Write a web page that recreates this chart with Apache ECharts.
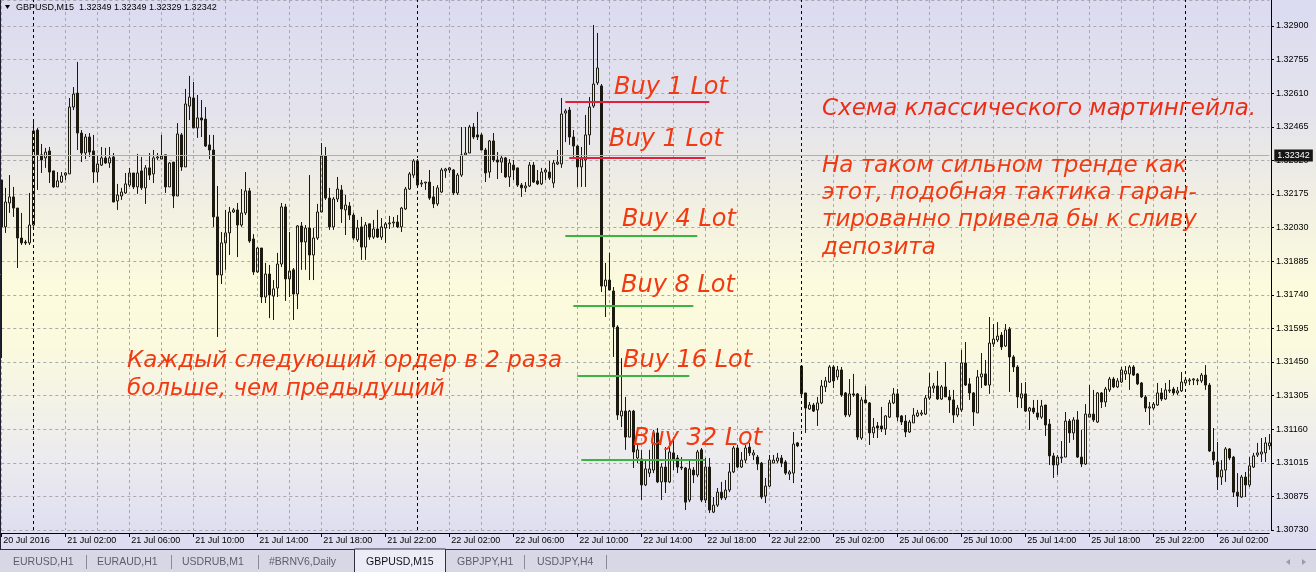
<!DOCTYPE html>
<html>
<head>
<meta charset="utf-8">
<script src="https://cdn.jsdelivr.net/npm/echarts@6/dist/echarts.min.js"></script>
<style>
  html, body { margin: 0; padding: 0; width: 1316px; height: 572px; overflow: hidden; }
  #chart {
    width: 1316px; height: 572px;
    background: linear-gradient(to bottom, #dbdbf1 0%, #e4e3ec 20%, #f1efe2 35%, #fcfbdd 50%, #fbfade 60%, #ecebee 80%, #dddcf1 95%, #dcdcf0 100%);
  }
</style>
</head>
<body>
<div id="chart"></div>
<script>
// GBPUSD M15, 20 Jul 22:00 - 26 Jul 05:15 2016
const opens = [
  1.32237, 1.32035, 1.32138, 1.32164, 1.32116, 1.31987, 1.31970, 1.31966, 1.32043, 1.32452,
  1.32345, 1.32332, 1.32362, 1.32276, 1.32207, 1.32228, 1.32258, 1.32263, 1.32551, 1.32611,
  1.32439, 1.32353, 1.32422, 1.32362, 1.32271, 1.32301, 1.32332, 1.32310, 1.32336, 1.32147,
  1.32168, 1.32181, 1.32215, 1.32267, 1.32207, 1.32276, 1.32203, 1.32289, 1.32263, 1.32332,
  1.32327, 1.32345, 1.32207, 1.32314, 1.32168, 1.32431, 1.32293, 1.32555, 1.32590, 1.32461,
  1.32504, 1.32499, 1.32388, 1.32366, 1.32078, 1.31828, 1.31966, 1.32009, 1.32099, 1.32108,
  1.32043, 1.32095, 1.32190, 1.31983, 1.31841, 1.31944, 1.31733, 1.31832, 1.31737, 1.31772,
  1.31875, 1.32121, 1.31811, 1.31850, 1.31746, 1.32039, 1.31970, 1.32030, 1.31914, 1.31987,
  1.32099, 1.32340, 1.32159, 1.32035, 1.32155, 1.32194, 1.32108, 1.32125, 1.32086, 1.31979,
  1.32035, 1.31948, 1.32048, 1.31991, 1.32026, 1.31991, 1.32030, 1.32048, 1.32052, 1.32056,
  1.32035, 1.32112, 1.32198, 1.32258, 1.32319, 1.32220, 1.32224, 1.32228, 1.32164, 1.32134,
  1.32185, 1.32276, 1.32280, 1.32280, 1.32181, 1.32258, 1.32345, 1.32353, 1.32465, 1.32431,
  1.32431, 1.32366, 1.32271, 1.32405, 1.32323, 1.32314, 1.32332, 1.32250, 1.32301, 1.32289,
  1.32215, 1.32203, 1.32211, 1.32301, 1.32233, 1.32220, 1.32271, 1.32271, 1.32224, 1.32306,
  1.32306, 1.32525, 1.32538, 1.32422, 1.32383, 1.32293, 1.32323, 1.32431, 1.32555, 1.32655,
  1.32642, 1.31780, 1.31806, 1.31759, 1.31604, 1.31221, 1.31242, 1.31130, 1.31242, 1.31040,
  1.31036, 1.30924, 1.30975, 1.30988, 1.31148, 1.30937, 1.31001, 1.30937, 1.31062, 1.31040,
  1.31001, 1.30997, 1.30859, 1.30988, 1.30967, 1.31075, 1.30859, 1.31001, 1.30807, 1.30837,
  1.30893, 1.30868, 1.30902, 1.30980, 1.31083, 1.31001, 1.31031, 1.31087, 1.31053, 1.31044,
  1.31018, 1.30876, 1.30919, 1.31018, 1.31027, 1.31040, 1.31023, 1.30971, 1.30975, 1.31105,
  1.31436, 1.31320, 1.31251, 1.31268, 1.31247, 1.31277, 1.31346, 1.31367, 1.31432, 1.31389,
  1.31419, 1.31320, 1.31225, 1.31316, 1.31316, 1.31126, 1.31290, 1.31277, 1.31148, 1.31178,
  1.31178, 1.31165, 1.31216, 1.31277, 1.31316, 1.31221, 1.31199, 1.31152, 1.31191, 1.31221,
  1.31229, 1.31229, 1.31298, 1.31341, 1.31350, 1.31294, 1.31346, 1.31303, 1.31290, 1.31225,
  1.31247, 1.31449, 1.31359, 1.31320, 1.31234, 1.31389, 1.31402, 1.31354, 1.31531, 1.31548,
  1.31569, 1.31522, 1.31595, 1.31475, 1.31432, 1.31298, 1.31316, 1.31242, 1.31255, 1.31234,
  1.31216, 1.31268, 1.31186, 1.31049, 1.31010, 1.31040, 1.31044, 1.31199, 1.31148, 1.31204,
  1.31044, 1.31014, 1.31216, 1.31229, 1.31195, 1.31320, 1.31281, 1.31333, 1.31380, 1.31346,
  1.31367, 1.31402, 1.31402, 1.31432, 1.31402, 1.31363, 1.31303, 1.31255, 1.31255, 1.31268,
  1.31320, 1.31294, 1.31329, 1.31337, 1.31320, 1.31329, 1.31363, 1.31372, 1.31376, 1.31372,
  1.31372, 1.31397, 1.31354, 1.31066, 1.31023, 1.30958, 1.30988, 1.31079, 1.31044, 1.30893,
  1.30872, 1.30958, 1.30924, 1.31001, 1.31053, 1.31057, 1.31062, 1.31092
];
const highs = [
  1.32237, 1.32203, 1.32258, 1.32207, 1.32116, 1.32095, 1.31979, 1.32181, 1.32499, 1.32461,
  1.32392, 1.32375, 1.32379, 1.32276, 1.32271, 1.32271, 1.32271, 1.32590, 1.32637, 1.32745,
  1.32452, 1.32435, 1.32439, 1.32431, 1.32345, 1.32379, 1.32375, 1.32379, 1.32353, 1.32220,
  1.32203, 1.32267, 1.32289, 1.32267, 1.32349, 1.32336, 1.32301, 1.32353, 1.32366, 1.32353,
  1.32431, 1.32345, 1.32314, 1.32314, 1.32482, 1.32439, 1.32629, 1.32685, 1.32659, 1.32603,
  1.32581, 1.32551, 1.32431, 1.32431, 1.32211, 1.32013, 1.32108, 1.32121, 1.32116, 1.32138,
  1.32198, 1.32271, 1.32203, 1.32004, 1.31948, 1.31944, 1.31880, 1.31871, 1.31806, 1.31923,
  1.32138, 1.32134, 1.32013, 1.31858, 1.32043, 1.32056, 1.32043, 1.32258, 1.32030, 1.32134,
  1.32396, 1.32379, 1.32203, 1.32164, 1.32250, 1.32215, 1.32172, 1.32142, 1.32095, 1.32065,
  1.32078, 1.32056, 1.32048, 1.32065, 1.32108, 1.32073, 1.32056, 1.32082, 1.32078, 1.32086,
  1.32121, 1.32207, 1.32271, 1.32327, 1.32327, 1.32237, 1.32228, 1.32280, 1.32211, 1.32215,
  1.32289, 1.32289, 1.32293, 1.32284, 1.32267, 1.32465, 1.32465, 1.32474, 1.32482, 1.32530,
  1.32439, 1.32375, 1.32409, 1.32439, 1.32357, 1.32345, 1.32336, 1.32327, 1.32323, 1.32289,
  1.32224, 1.32228, 1.32314, 1.32314, 1.32280, 1.32289, 1.32289, 1.32319, 1.32323, 1.32366,
  1.32590, 1.32543, 1.32551, 1.32452, 1.32388, 1.32379, 1.32517, 1.32594, 1.32904, 1.32870,
  1.32650, 1.31880, 1.31923, 1.31776, 1.31612, 1.31470, 1.31303, 1.31247, 1.31247, 1.31105,
  1.31075, 1.31031, 1.31075, 1.31161, 1.31169, 1.31018, 1.31087, 1.31105, 1.31130, 1.31053,
  1.31044, 1.31001, 1.31031, 1.31001, 1.31075, 1.31083, 1.31040, 1.31040, 1.30872, 1.30911,
  1.30937, 1.30945, 1.31018, 1.31092, 1.31096, 1.31066, 1.31096, 1.31105, 1.31075, 1.31053,
  1.31023, 1.30954, 1.31053, 1.31053, 1.31062, 1.31053, 1.31031, 1.30988, 1.31152, 1.31109,
  1.31440, 1.31320, 1.31281, 1.31277, 1.31303, 1.31376, 1.31389, 1.31440, 1.31440, 1.31436,
  1.31432, 1.31324, 1.31380, 1.31402, 1.31320, 1.31303, 1.31350, 1.31281, 1.31212, 1.31195,
  1.31260, 1.31225, 1.31290, 1.31341, 1.31337, 1.31225, 1.31225, 1.31204, 1.31255, 1.31247,
  1.31247, 1.31311, 1.31406, 1.31363, 1.31415, 1.31354, 1.31453, 1.31333, 1.31333, 1.31268,
  1.31505, 1.31539, 1.31384, 1.31324, 1.31419, 1.31492, 1.31462, 1.31647, 1.31617, 1.31625,
  1.31582, 1.31617, 1.31604, 1.31483, 1.31440, 1.31363, 1.31367, 1.31260, 1.31290, 1.31290,
  1.31290, 1.31268, 1.31208, 1.31062, 1.31053, 1.31113, 1.31238, 1.31208, 1.31216, 1.31242,
  1.31161, 1.31272, 1.31354, 1.31333, 1.31324, 1.31324, 1.31346, 1.31389, 1.31389, 1.31384,
  1.31432, 1.31436, 1.31440, 1.31440, 1.31406, 1.31367, 1.31311, 1.31281, 1.31281, 1.31363,
  1.31341, 1.31363, 1.31376, 1.31346, 1.31346, 1.31410, 1.31384, 1.31384, 1.31384, 1.31384,
  1.31406, 1.31440, 1.31363, 1.31169, 1.31109, 1.31031, 1.31087, 1.31083, 1.31049, 1.30975,
  1.30967, 1.30980, 1.31044, 1.31062, 1.31105, 1.31126, 1.31130, 1.31143
];
const lows = [
  1.31470, 1.32009, 1.32095, 1.32078, 1.31858, 1.31957, 1.31957, 1.31957, 1.32035, 1.32194,
  1.32267, 1.32289, 1.32224, 1.32203, 1.32207, 1.32224, 1.32237, 1.32263, 1.32538, 1.32366,
  1.32314, 1.32327, 1.32336, 1.32224, 1.32228, 1.32297, 1.32306, 1.32289, 1.32142, 1.32108,
  1.32151, 1.32177, 1.32207, 1.32198, 1.32177, 1.32194, 1.32134, 1.32237, 1.32224, 1.32323,
  1.32327, 1.32181, 1.32207, 1.32116, 1.32168, 1.32276, 1.32293, 1.32495, 1.32461, 1.32418,
  1.32422, 1.32379, 1.32327, 1.32035, 1.31561, 1.31789, 1.31850, 1.31914, 1.32095, 1.31905,
  1.32035, 1.32086, 1.31966, 1.31828, 1.31837, 1.31707, 1.31707, 1.31642, 1.31634, 1.31733,
  1.31862, 1.31716, 1.31733, 1.31634, 1.31681, 1.31850, 1.31850, 1.31806, 1.31806, 1.31979,
  1.32099, 1.32151, 1.32022, 1.32022, 1.32142, 1.32052, 1.32000, 1.32065, 1.31979, 1.31970,
  1.31893, 1.31893, 1.31979, 1.31983, 1.31987, 1.31979, 1.31966, 1.32026, 1.32035, 1.32030,
  1.32013, 1.32108, 1.32194, 1.32246, 1.32207, 1.32207, 1.32194, 1.32151, 1.32116, 1.32125,
  1.32181, 1.32246, 1.32267, 1.32172, 1.32172, 1.32250, 1.32345, 1.32353, 1.32413, 1.32409,
  1.32366, 1.32228, 1.32246, 1.32314, 1.32241, 1.32267, 1.32246, 1.32207, 1.32237, 1.32207,
  1.32164, 1.32185, 1.32207, 1.32224, 1.32215, 1.32215, 1.32237, 1.32237, 1.32203, 1.32301,
  1.32289, 1.32400, 1.32388, 1.32336, 1.32207, 1.32207, 1.32207, 1.32388, 1.32547, 1.32646,
  1.31755, 1.31647, 1.31763, 1.31475, 1.31204, 1.31173, 1.31075, 1.31130, 1.30997, 1.31018,
  1.30859, 1.30919, 1.30958, 1.30975, 1.30932, 1.30859, 1.30889, 1.30932, 1.30988, 1.30975,
  1.30988, 1.30816, 1.30850, 1.30932, 1.30958, 1.30850, 1.30846, 1.30803, 1.30803, 1.30829,
  1.30859, 1.30859, 1.30893, 1.30975, 1.30997, 1.30997, 1.31018, 1.31049, 1.31031, 1.30988,
  1.30863, 1.30846, 1.30915, 1.31018, 1.31018, 1.31001, 1.30967, 1.30945, 1.30932, 1.31087,
  1.31307, 1.31148, 1.31247, 1.31238, 1.31178, 1.31272, 1.31324, 1.31363, 1.31341, 1.31376,
  1.31303, 1.31216, 1.31216, 1.31303, 1.31118, 1.31118, 1.31277, 1.31096, 1.31126, 1.31126,
  1.31152, 1.31139, 1.31212, 1.31272, 1.31199, 1.31182, 1.31130, 1.31148, 1.31191, 1.31216,
  1.31221, 1.31225, 1.31290, 1.31320, 1.31290, 1.31290, 1.31303, 1.31234, 1.31191, 1.31216,
  1.31238, 1.31350, 1.31290, 1.31178, 1.31234, 1.31341, 1.31350, 1.31316, 1.31518, 1.31539,
  1.31505, 1.31518, 1.31324, 1.31410, 1.31255, 1.31255, 1.31238, 1.31161, 1.31229, 1.31204,
  1.31208, 1.31135, 1.31010, 1.30954, 1.30967, 1.31018, 1.31044, 1.31105, 1.31118, 1.31040,
  1.31001, 1.31010, 1.31216, 1.31195, 1.31191, 1.31255, 1.31260, 1.31324, 1.31341, 1.31341,
  1.31363, 1.31376, 1.31333, 1.31393, 1.31354, 1.31298, 1.31238, 1.31182, 1.31247, 1.31264,
  1.31285, 1.31290, 1.31320, 1.31311, 1.31311, 1.31324, 1.31354, 1.31354, 1.31354, 1.31354,
  1.31363, 1.31333, 1.31066, 1.31010, 1.30902, 1.30924, 1.30937, 1.31031, 1.30872, 1.30829,
  1.30868, 1.30872, 1.30915, 1.30997, 1.31044, 1.31023, 1.31023, 1.31075
];
const closes = [
  1.32035, 1.32142, 1.32164, 1.32116, 1.31987, 1.31966, 1.31966, 1.32043, 1.32448, 1.32345,
  1.32323, 1.32357, 1.32271, 1.32207, 1.32233, 1.32254, 1.32267, 1.32551, 1.32607, 1.32439,
  1.32353, 1.32422, 1.32357, 1.32271, 1.32306, 1.32332, 1.32310, 1.32332, 1.32142, 1.32172,
  1.32185, 1.32220, 1.32267, 1.32207, 1.32267, 1.32203, 1.32289, 1.32258, 1.32332, 1.32336,
  1.32340, 1.32207, 1.32310, 1.32168, 1.32435, 1.32293, 1.32564, 1.32594, 1.32461, 1.32504,
  1.32495, 1.32383, 1.32366, 1.32078, 1.31828, 1.31966, 1.32009, 1.32099, 1.32108, 1.32043,
  1.32095, 1.32190, 1.31974, 1.31841, 1.31944, 1.31733, 1.31832, 1.31742, 1.31768, 1.31875,
  1.32121, 1.31811, 1.31845, 1.31746, 1.32039, 1.31970, 1.32030, 1.31914, 1.31987, 1.32099,
  1.32340, 1.32159, 1.32035, 1.32155, 1.32198, 1.32112, 1.32129, 1.32086, 1.31987, 1.32030,
  1.31948, 1.32043, 1.31991, 1.32026, 1.31991, 1.32035, 1.32048, 1.32052, 1.32056, 1.32035,
  1.32116, 1.32198, 1.32263, 1.32319, 1.32215, 1.32224, 1.32228, 1.32159, 1.32134, 1.32203,
  1.32280, 1.32284, 1.32289, 1.32181, 1.32258, 1.32345, 1.32353, 1.32465, 1.32422, 1.32422,
  1.32366, 1.32267, 1.32405, 1.32323, 1.32314, 1.32332, 1.32250, 1.32310, 1.32280, 1.32215,
  1.32203, 1.32211, 1.32301, 1.32228, 1.32220, 1.32271, 1.32280, 1.32246, 1.32310, 1.32314,
  1.32521, 1.32534, 1.32422, 1.32383, 1.32293, 1.32327, 1.32431, 1.32551, 1.32650, 1.32719,
  1.31780, 1.31806, 1.31763, 1.31604, 1.31225, 1.31242, 1.31130, 1.31242, 1.31066, 1.31075,
  1.30924, 1.30993, 1.30993, 1.31148, 1.30937, 1.31001, 1.30937, 1.31066, 1.31031, 1.31001,
  1.30997, 1.30850, 1.30993, 1.30967, 1.31066, 1.30859, 1.31001, 1.30816, 1.30837, 1.30893,
  1.30868, 1.30902, 1.30980, 1.31083, 1.31001, 1.31031, 1.31083, 1.31062, 1.31062, 1.31014,
  1.30872, 1.30919, 1.31031, 1.31031, 1.31040, 1.31018, 1.30975, 1.30980, 1.31100, 1.31092,
  1.31316, 1.31255, 1.31268, 1.31242, 1.31277, 1.31350, 1.31372, 1.31432, 1.31372, 1.31419,
  1.31311, 1.31225, 1.31316, 1.31311, 1.31130, 1.31290, 1.31277, 1.31148, 1.31173, 1.31169,
  1.31165, 1.31221, 1.31277, 1.31316, 1.31216, 1.31195, 1.31152, 1.31195, 1.31225, 1.31234,
  1.31234, 1.31298, 1.31346, 1.31350, 1.31294, 1.31346, 1.31303, 1.31290, 1.31225, 1.31255,
  1.31449, 1.31354, 1.31320, 1.31238, 1.31389, 1.31402, 1.31354, 1.31535, 1.31552, 1.31565,
  1.31518, 1.31591, 1.31475, 1.31432, 1.31303, 1.31316, 1.31242, 1.31255, 1.31238, 1.31216,
  1.31264, 1.31182, 1.31049, 1.31010, 1.31044, 1.31044, 1.31199, 1.31148, 1.31204, 1.31044,
  1.31014, 1.31229, 1.31229, 1.31204, 1.31320, 1.31281, 1.31337, 1.31380, 1.31346, 1.31372,
  1.31419, 1.31415, 1.31432, 1.31397, 1.31359, 1.31303, 1.31255, 1.31260, 1.31272, 1.31320,
  1.31294, 1.31333, 1.31333, 1.31320, 1.31329, 1.31367, 1.31376, 1.31376, 1.31380, 1.31376,
  1.31397, 1.31354, 1.31070, 1.31031, 1.30958, 1.30988, 1.31079, 1.31040, 1.30893, 1.30876,
  1.30958, 1.30924, 1.31006, 1.31049, 1.31062, 1.31066, 1.31105, 1.31105
];

// Time-axis tick labels, one every 16 bars (4 hours)
const timeTickLabels = [
  '20 Jul 2016', '21 Jul 02:00', '21 Jul 06:00', '21 Jul 10:00', '21 Jul 14:00',
  '21 Jul 18:00', '21 Jul 22:00', '22 Jul 02:00', '22 Jul 06:00', '22 Jul 10:00',
  '22 Jul 14:00', '22 Jul 18:00', '22 Jul 22:00', '25 Jul 02:00', '25 Jul 06:00',
  '25 Jul 10:00', '25 Jul 14:00', '25 Jul 18:00', '25 Jul 22:00', '26 Jul 02:00'
];
// Price-axis tick labels, bottom to top
const priceTickLabels = [
  '1.30730', '1.30875', '1.31015', '1.31160', '1.31305', '1.31450', '1.31595', '1.31740',
  '1.31885', '1.32030', '1.32175', '1.32320', '1.32465', '1.32610', '1.32755', '1.32900'
];
// Day separators (bar index of 00:00)
const daySeparators = [8, 104, 200, 296];
// Current bid
const bidPrice = 1.32342;
const headerText = 'GBPUSD,M15  1.32349 1.32349 1.32329 1.32342';

// Martingale order levels
const orderLots   = [1, 1, 4, 8, 16, 32];
const orderLevels = [1.32574, 1.32333, 1.31996, 1.31697, 1.31393, 1.31031];
const orderFrom   = [141, 142, 141, 143, 144, 145];
const orderTo     = [177, 176, 174, 173, 172, 176];

const tabNames = ['EURUSD,H1', 'EURAUD,H1', 'USDRUB,M1', '#BRNV6,Daily', 'GBPUSD,M15', 'GBPJPY,H1', 'USDJPY,H4'];
const activeTab = 'GBPUSD,M15';

const noteLeft = ['Каждый следующий ордер в 2 раза', 'больше, чем предыдущий'];
const noteTitle = 'Схема классического мартингейла.';
const noteRight = ['На таком сильном тренде как', 'этот, подобная тактика гаран-', 'тированно привела бы к сливу', 'депозита'];

// ---- build bar times (15-minute bars, weekend skipped) ----
const monthNames = ['Jan','Feb','Mar','Apr','May','Jun','Jul','Aug','Sep','Oct','Nov','Dec'];
const times = [];
for (let t = Date.UTC(2016, 6, 20, 22, 0); times.length < opens.length; t += 15 * 60000) {
  const d = new Date(t);
  const wd = d.getUTCDay();
  if (wd === 0 || wd === 6) continue;
  const p = n => String(n).padStart(2, '0');
  times.push(d.getUTCDate() + ' ' + monthNames[d.getUTCMonth()] + ' ' + p(d.getUTCHours()) + ':' + p(d.getUTCMinutes()));
}

const candles = opens.map((o, i) => [o, closes[i], lows[i], highs[i]]);

const yMin = parseFloat(priceTickLabels[0]);
const yStep = (parseFloat(priceTickLabels[priceTickLabels.length - 1]) - yMin) / (priceTickLabels.length - 1);
const yMax = yMin + yStep * 15.7725;

const ink = '#1c1a10';
const gridColor = '#a9a9ad';
const noteFont = 'italic 23px "DejaVu Sans", sans-serif';
const buyFont = 'italic 24px "DejaVu Sans", sans-serif';
const noteColor = '#f23a12';
const axisFont = '"Liberation Sans", Arial, sans-serif';

const markLines = [];
daySeparators.forEach(idx => markLines.push({
  xAxis: idx, lineStyle: { color: '#000', type: [3, 3], width: 1 }, label: { show: false }
}));
markLines.push({
  yAxis: bidPrice,
  lineStyle: { color: '#b6b19b', type: 'solid', width: 1 },
  label: {
    show: true, position: 'end', distance: 5,
    formatter: bidPrice.toFixed(5),
    color: '#ffffff', backgroundColor: '#161616',
    fontSize: 9, fontFamily: axisFont, padding: [2, 3, 1, 3]
  }
});
orderLevels.forEach((lvl, k) => {
  markLines.push([
    { coord: [orderFrom[k], lvl], lineStyle: { color: orderLots[k] === 1 ? '#e2203e' : '#3bb444', width: 2, type: 'solid' }, label: { show: false } },
    { coord: [orderTo[k], lvl] }
  ]);
});

// annotation text placement (left x, vertical middle y)
const buyPos = [[614, 88], [609, 140], [622, 220], [621, 286], [623, 361], [633, 439]];
const graphics = [];
orderLots.forEach((lot, k) => graphics.push({
  type: 'text', z: 100, silent: true,
  style: { x: buyPos[k][0], y: buyPos[k][1], text: 'Buy ' + lot + ' Lot', font: buyFont, fill: noteColor, verticalAlign: 'middle' }
}));
graphics.push({
  type: 'text', z: 100, silent: true,
  style: { x: 822, y: 109, text: noteTitle, font: noteFont, fill: '#ea2e16', verticalAlign: 'middle' }
});
noteRight.forEach((line, k) => graphics.push({
  type: 'text', z: 100, silent: true,
  style: { x: 822, y: 166 + k * 27.2, text: line, font: noteFont, fill: noteColor, verticalAlign: 'middle' }
}));
noteLeft.forEach((line, k) => graphics.push({
  type: 'text', z: 100, silent: true,
  style: { x: 127, y: 361 + k * 28, text: line, font: noteFont, fill: noteColor, verticalAlign: 'middle' }
}));

// header
graphics.push({ type: 'polygon', z: 100, silent: true, shape: { points: [[5, 5], [10, 5], [7.5, 9]] }, style: { fill: '#000' } });
graphics.push({
  type: 'text', z: 100, silent: true,
  style: { x: 16, y: 7.5, text: headerText, font: '9px ' + axisFont, fill: '#000', verticalAlign: 'middle' }
});
// window border
graphics.push({ type: 'line', z: 100, silent: true, shape: { x1: 0.5, y1: 0, x2: 0.5, y2: 549 }, style: { stroke: '#202030', lineWidth: 1 } });

// tab bar
graphics.push({ type: 'rect', z: 100, silent: true, shape: { x: 0, y: 549, width: 1316, height: 23 }, style: { fill: '#d7d7e6' } });
graphics.push({ type: 'line', z: 101, silent: true, shape: { x1: 0, y1: 549.5, x2: 1316, y2: 549.5 }, style: { stroke: '#303040', lineWidth: 1 } });
const tabX = [13, 97, 182, 269, 366, 457, 537];
const sepX = [86, 171, 258, 354, 445, 524, 606];
tabNames.forEach((name, k) => {
  const active = name === activeTab;
  if (active) {
    graphics.push({ type: 'rect', z: 102, silent: true, shape: { x: sepX[3] + 0.5, y: 549, width: sepX[4] - sepX[3], height: 24 }, style: { fill: '#ececf6', stroke: '#303040', lineWidth: 1 } });
  }
  graphics.push({
    type: 'text', z: 103, silent: true,
    style: { x: tabX[k], y: 562, text: name, font: '10.5px ' + axisFont, fill: active ? '#101018' : '#5d5d6d', verticalAlign: 'middle' }
  });
});
[0, 1, 2, 5, 6].forEach(k => graphics.push({
  type: 'line', z: 102, silent: true, shape: { x1: sepX[k] + 0.5, y1: 555, x2: sepX[k] + 0.5, y2: 569 }, style: { stroke: '#8a8a9a', lineWidth: 1 }
}));
graphics.push({ type: 'polygon', z: 102, silent: true, shape: { points: [[1286, 562], [1290, 559], [1290, 565]] }, style: { fill: '#9a9aaa' } });
graphics.push({ type: 'polygon', z: 102, silent: true, shape: { points: [[1306, 562], [1302, 559], [1302, 565]] }, style: { fill: '#9a9aaa' } });

const chart = echarts.init(document.getElementById('chart'));
chart.setOption({
  backgroundColor: 'transparent',
  animation: false,
  grid: { left: 1.3, right: 46.7, top: 0, bottom: 42, containLabel: false, outerBoundsMode: 'none' },
  xAxis: {
    type: 'category',
    data: times,
    boundaryGap: false,
    offset: 3,
    axisLine: { show: true, lineStyle: { color: '#000', width: 1 } },
    axisTick: { show: true, interval: i => i % 16 === 0, length: 4, lineStyle: { color: '#000' } },
    axisLabel: {
      interval: i => i % 16 === 0,
      formatter: (v, i) => (i % 16 === 0 ? (timeTickLabels[i / 16] || '') : ''),
      align: 'left', margin: 3, padding: [0, 0, 0, 2],
      fontSize: 9, fontFamily: axisFont, color: '#000'
    },
    splitLine: {
      show: true,
      interval: i => i % 8 === 0 && daySeparators.indexOf(i) < 0,
      lineStyle: { color: gridColor, type: [3, 3], width: 1 }
    }
  },
  yAxis: {
    type: 'value',
    position: 'right',
    min: yMin, max: yMax, interval: yStep,
    offset: 1.7,
    scale: true,
    axisLine: { show: true, lineStyle: { color: '#000', width: 1 } },
    axisTick: { show: true, length: 3, lineStyle: { color: '#000' } },
    axisLabel: {
      margin: 5, fontSize: 9, fontFamily: axisFont, color: '#000',
      showMaxLabel: false,
      formatter: v => {
        const k = (v - yMin) / yStep;
        const r = Math.round(k);
        return Math.abs(k - r) < 1e-3 && r < priceTickLabels.length ? priceTickLabels[r] : '';
      }
    },
    splitLine: { show: true, lineStyle: { color: gridColor, type: [3, 3], width: 1 } }
  },
  series: [{
    type: 'candlestick',
    data: candles,
    barWidth: 3,
    clip: false,
    itemStyle: {
      color: 'rgba(255,255,255,0)', color0: ink,
      borderColor: ink, borderColor0: ink, borderWidth: 1
    },
    markLine: { silent: true, symbol: ['none', 'none'], precision: 5, animation: false, data: markLines }
  }],
  graphic: graphics
});
</script>
</body>
</html>
